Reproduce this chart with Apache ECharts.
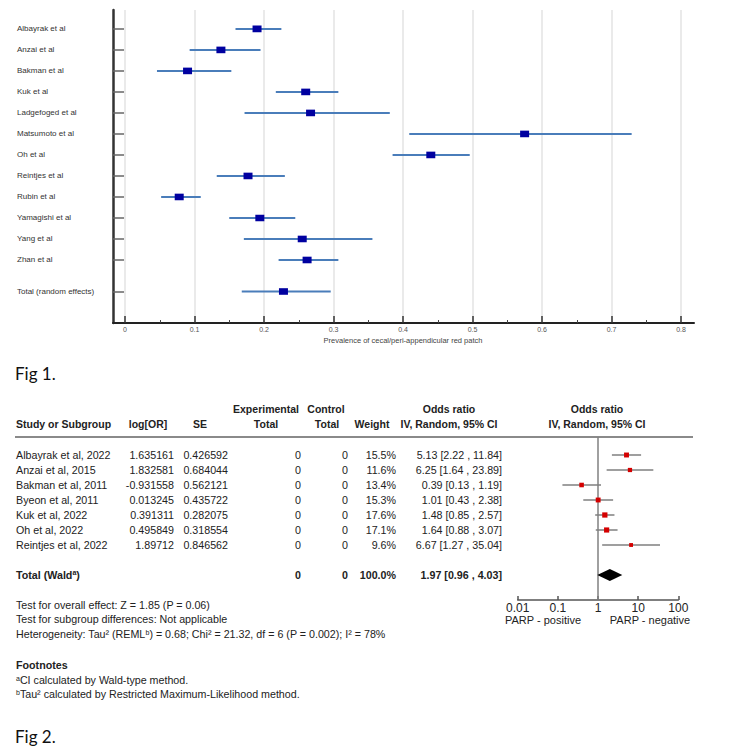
<!DOCTYPE html>
<html>
<head>
<meta charset="utf-8">
<script src="https://cdn.jsdelivr.net/npm/echarts@6/dist/echarts.min.js"></script>
<style>
html,body{margin:0;padding:0;background:#fff;}
#c{width:735px;height:750px;}
</style>
</head>
<body>
<div id="c"></div>
<script>
// ---------- Fig 1 data ----------
const fig1Studies = ['Albayrak et al','Anzai et al','Bakman et al','Kuk et al','Ladgefoged et al','Matsumoto et al','Oh et al','Reintjes et al','Rubin et al','Yamagishi et al','Yang et al','Zhan et al','Total (random effects)'];
const fig1Est = [0.190,0.138,0.090,0.260,0.267,0.575,0.440,0.177,0.078,0.194,0.255,0.262,0.228];
const fig1Lo  = [0.159,0.093,0.046,0.217,0.172,0.409,0.385,0.132,0.052,0.150,0.171,0.221,0.168];
const fig1Hi  = [0.225,0.195,0.153,0.307,0.381,0.729,0.496,0.230,0.109,0.245,0.356,0.307,0.296];
const fig1XTitle = 'Prevalence of cecal/peri-appendicular red patch';

// ---------- Fig 2 data ----------
const fig2Studies = ['Albayrak et al, 2022','Anzai et al, 2015','Bakman et al, 2011','Byeon et al, 2011','Kuk et al, 2022','Oh et al, 2022','Reintjes et al, 2022'];
const fig2LogOR = [1.635161,1.832581,-0.931558,0.013245,0.391311,0.495849,1.89712];
const fig2SE = [0.426592,0.684044,0.562121,0.435722,0.282075,0.318554,0.846562];
const fig2ExpTotal = [0,0,0,0,0,0,0];
const fig2CtrlTotal = [0,0,0,0,0,0,0];
const fig2Weight = [15.5,11.6,13.4,15.3,17.6,17.1,9.6];
const fig2OR = [5.13,6.25,0.39,1.01,1.48,1.64,6.67];
const fig2Lo = [2.22,1.64,0.13,0.43,0.85,0.88,1.27];
const fig2Hi = [11.84,23.89,1.19,2.38,2.57,3.07,35.04];
const totalExp = 0, totalCtrl = 0, totalWeight = 100.0;
const totalOR = 1.97, totalLo = 0.96, totalHi = 4.03;
const fig2TickLabels = ['0.01','0.1','1','10','100'];
const fig2LeftLabel = 'PARP - positive', fig2RightLabel = 'PARP - negative';

// ---------- layout constants ----------
const TOTAL_GAP1 = 0.5;             // extra gap before Fig 1 total row
const TOTAL_ROW2 = fig2Studies.length + 1; // Fig 2 total row index
const FONT = "'Liberation Sans', Arial, sans-serif";
const TXT = '#222';

const fig1Rows = fig1Studies.map((s, i) => i < fig1Studies.length - 1 ? i : i + TOTAL_GAP1);

const chart = echarts.init(document.getElementById('c'), null, {renderer: 'svg', width: 735, height: 750});

const fig1Data = fig1Studies.map((s, i) => [fig1Lo[i], fig1Hi[i], fig1Est[i], fig1Rows[i]]);
const fig2Data = fig2Studies.map((s, i) => [fig2Lo[i], fig2Hi[i], fig2OR[i], i, fig2Weight[i]]);
const fig2TotalData = [[totalLo, totalHi, totalOR, TOTAL_ROW2]];

const option = {
  animation: false,
  backgroundColor: '#fff',
  textStyle: {fontFamily: FONT},
  grid: [
    {left: 125, width: 556, top: 10, height: 313, outerBoundsMode: 'none'},
    {left: 113, width: 581, top: 10, height: 313, outerBoundsMode: 'none'},
    {left: 517.7, width: 160.6, top: 437, height: 163, outerBoundsMode: 'none'}
  ],
  xAxis: [
    {gridIndex: 0, type: 'value', min: 0, max: 0.8, interval: 0.1, position: 'bottom',
     axisLine: {show: false, onZero: false},
     axisTick: {show: true, inside: true, length: 7, lineStyle: {color: '#333', width: 1.5}},
     minorTick: {show: true, splitNumber: 2, length: 3, lineStyle: {color: '#444', width: 1}},
     splitLine: {show: true, lineStyle: {color: '#e3e3e3', width: 1.5}},
     axisLabel: {fontSize: 7, color: '#555', margin: 3, fontFamily: FONT},
     name: fig1XTitle, nameLocation: 'middle', nameGap: 13,
     nameTextStyle: {fontSize: 7.5, color: '#444', fontFamily: FONT}},
    {gridIndex: 1, type: 'value', min: 0, max: 1, position: 'bottom',
     axisLine: {show: true, onZero: false, lineStyle: {color: '#222', width: 2}},
     axisTick: {show: false}, axisLabel: {show: false}, splitLine: {show: false}},
    {gridIndex: 2, type: 'log', logBase: 10, min: 0.01, max: 100, position: 'bottom',
     axisLine: {show: true, onZero: false, lineStyle: {color: '#555', width: 1.5}},
     axisTick: {show: true, inside: true, length: 4, lineStyle: {color: '#555', width: 1.5}},
     splitLine: {show: false}, minorTick: {show: false},
     axisLabel: {fontSize: 12, color: TXT, margin: 2, fontFamily: FONT,
       formatter: v => fig2TickLabels[Math.round(Math.log10(v)) + 2]}}
  ],
  yAxis: [
    {gridIndex: 0, type: 'value', min: -0.9, max: 14, inverse: true, show: false},
    {gridIndex: 1, type: 'value', min: -0.9, max: 14, inverse: true, position: 'left',
     axisLine: {show: true, onZero: false, lineStyle: {color: '#333', width: 2.5}},
     axisTick: {show: true, inside: true, length: 11, customValues: fig1Rows, lineStyle: {color: '#666', width: 1.5}},
     axisLabel: {show: true, customValues: fig1Rows, align: 'left', margin: 96, fontSize: 8, color: '#333', fontFamily: FONT,
       formatter: v => { const k = fig1Rows.findIndex(r => Math.abs(r - v) < 1e-6); return k >= 0 ? fig1Studies[k] : ''; }},
     splitLine: {show: false}},
    {gridIndex: 2, type: 'value', min: -1.2, max: 9.667, inverse: true, show: false}
  ],
  series: [
    {
      type: 'custom', xAxisIndex: 0, yAxisIndex: 0, z: 5, clip: false,
      data: fig1Data, encode: {x: [0, 1, 2], y: 3},
      renderItem: (params, api) => {
        const r = api.value(3);
        const a = api.coord([api.value(0), r]);
        const b = api.coord([api.value(1), r]);
        const c = api.coord([api.value(2), r]);
        return {type: 'group', children: [
          {type: 'line', shape: {x1: a[0], y1: a[1], x2: b[0], y2: b[1]}, style: {stroke: '#4a7dba', lineWidth: 2}},
          {type: 'rect', shape: {x: c[0] - 4.5, y: c[1] - 3.3, width: 9, height: 6.6}, style: {fill: '#0000a0'}}
        ]};
      }
    },
    {
      type: 'scatter', xAxisIndex: 2, yAxisIndex: 2, z: 1, data: [], silent: true,
      markLine: {symbol: 'none', silent: true, label: {show: false},
        lineStyle: {color: '#808080', width: 1.5, type: 'solid'}, data: [{xAxis: 1}]}
    },
    {
      type: 'custom', xAxisIndex: 2, yAxisIndex: 2, z: 5, clip: false,
      data: fig2Data, encode: {x: [0, 1, 2], y: 3},
      renderItem: (params, api) => {
        const r = api.value(3);
        const a = api.coord([api.value(0), r]);
        const b = api.coord([api.value(1), r]);
        const c = api.coord([api.value(2), r]);
        const s = 1.25 * Math.sqrt(api.value(4));
        return {type: 'group', children: [
          {type: 'line', shape: {x1: a[0], y1: a[1], x2: b[0], y2: b[1]}, style: {stroke: '#7f7f7f', lineWidth: 1.5}},
          {type: 'rect', shape: {x: c[0] - s / 2, y: c[1] - s / 2, width: s, height: s}, style: {fill: '#d40000'}}
        ]};
      }
    },
    {
      type: 'custom', xAxisIndex: 2, yAxisIndex: 2, z: 5, clip: false,
      data: fig2TotalData, encode: {x: [0, 1, 2], y: 3},
      renderItem: (params, api) => {
        const r = api.value(3);
        const a = api.coord([api.value(0), r]);
        const b = api.coord([api.value(1), r]);
        const c = api.coord([api.value(2), r]);
        const h = 6;
        return {type: 'polygon', shape: {points: [[a[0], a[1]], [c[0], c[1] - h], [b[0], b[1]], [c[0], c[1] + h]]}, style: {fill: '#000'}};
      }
    }
  ]
};
chart.setOption(option);

// ---------- text (table, notes, captions) ----------
const FS = 10.7, HFS = 10.5;
function txt(x, y, text, align, opts) {
  opts = opts || {};
  const style = Object.assign({
    text: text, fill: opts.fill || TXT, fontSize: opts.fontSize || FS,
    fontFamily: opts.fontFamily || FONT, fontWeight: opts.bold ? 'bold' : 'normal',
    align: align, verticalAlign: 'middle', textAlign: align, textVerticalAlign: 'middle'
  }, opts.rich ? {rich: opts.rich} : {});
  return {type: 'text', x: x, y: y, silent: true, style: style};
}
const hdr = (x, y, t, a) => txt(x, y, t, a, {bold: true, fontSize: HFS});
const rowY = i => chart.convertToPixel({yAxisIndex: 2}, i);
const supRich = {
  n: {fontSize: FS, fontFamily: FONT, fill: TXT},
  b: {fontSize: FS, fontFamily: FONT, fill: TXT, fontWeight: 'bold'},
  s: {fontSize: 7, fontFamily: FONT, fill: TXT, verticalAlign: 'top'},
  sb: {fontSize: 7, fontFamily: FONT, fill: TXT, verticalAlign: 'top', fontWeight: 'bold'}
};
const col = {study: 16, logOR: 174, se: 228, exp: 301, ctrl: 348, weight: 396, or: 502};
const H1 = 409, H2 = 424;
const els = [];
// header
els.push(hdr(col.study, H2, 'Study or Subgroup', 'left'));
els.push(hdr(148, H2, 'log[OR]', 'center'));
els.push(hdr(200, H2, 'SE', 'center'));
els.push(hdr(266, H1, 'Experimental', 'center'));
els.push(hdr(266, H2, 'Total', 'center'));
els.push(hdr(326, H1, 'Control', 'center'));
els.push(hdr(327, H2, 'Total', 'center'));
els.push(hdr(372, H2, 'Weight', 'center'));
els.push(hdr(449, H1, 'Odds ratio', 'center'));
els.push(hdr(449, H2, 'IV, Random, 95% CI', 'center'));
els.push(hdr(597, H1, 'Odds ratio', 'center'));
els.push(hdr(597, H2, 'IV, Random, 95% CI', 'center'));
els.push({type: 'line', silent: true, shape: {x1: 15, y1: 437, x2: 693, y2: 437}, style: {stroke: '#8a8a8a', lineWidth: 2}});
// rows
const ciText = (o, l, h) => o.toFixed(2) + ' [' + l.toFixed(2) + ' , ' + h.toFixed(2) + ']';
fig2Studies.forEach((s, i) => {
  const y = rowY(i);
  els.push(txt(col.study, y, s, 'left'));
  els.push(txt(col.logOR, y, String(fig2LogOR[i]), 'right'));
  els.push(txt(col.se, y, String(fig2SE[i]), 'right'));
  els.push(txt(col.exp, y, String(fig2ExpTotal[i]), 'right'));
  els.push(txt(col.ctrl, y, String(fig2CtrlTotal[i]), 'right'));
  els.push(txt(col.weight, y, fig2Weight[i].toFixed(1) + '%', 'right'));
  els.push(txt(col.or, y, ciText(fig2OR[i], fig2Lo[i], fig2Hi[i]), 'right'));
});
const ty = rowY(TOTAL_ROW2);
els.push(txt(col.study, ty, '{b|Total (Wald}{sb|a}{b|)}', 'left', {rich: supRich, bold: true}));
els.push(txt(col.exp, ty, String(totalExp), 'right', {bold: true}));
els.push(txt(col.ctrl, ty, String(totalCtrl), 'right', {bold: true}));
els.push(txt(col.weight, ty, totalWeight.toFixed(1) + '%', 'right', {bold: true}));
els.push(txt(col.or, ty, ciText(totalOR, totalLo, totalHi), 'right', {bold: true}));
// axis side labels
els.push(txt(543, 620, fig2LeftLabel, 'center', {fontSize: 11}));
els.push(txt(650, 620, fig2RightLabel, 'center', {fontSize: 11}));
// notes
els.push(txt(16, 605, 'Test for overall effect: Z = 1.85 (P = 0.06)', 'left'));
els.push(txt(16, 619, 'Test for subgroup differences: Not applicable', 'left'));
els.push(txt(16, 634, '{n|Heterogeneity: Tau² (REML}{s|b}{n|) = 0.68; Chi² = 21.32, df = 6 (P = 0.002); I² = 78%}', 'left', {rich: supRich}));
els.push(txt(16, 665, 'Footnotes', 'left', {bold: true}));
els.push(txt(16, 680, '{s|a}{n|CI calculated by Wald-type method.}', 'left', {rich: supRich}));
els.push(txt(16, 694, '{s|b}{n|Tau² calculated by Restricted Maximum-Likelihood method.}', 'left', {rich: supRich}));
// captions
els.push(txt(15, 373, 'Fig 1.', 'left', {fontSize: 17, fontFamily: "Lato, 'Open Sans', sans-serif", fill: '#111'}));
els.push(txt(15, 736, 'Fig 2.', 'left', {fontSize: 17, fontFamily: "Lato, 'Open Sans', sans-serif", fill: '#111'}));

chart.setOption({graphic: {elements: els}});
</script>
</body>
</html>
